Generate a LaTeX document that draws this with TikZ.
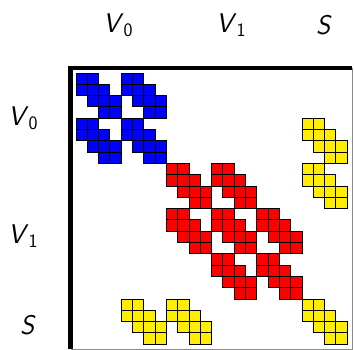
\documentclass[tikz,border=0pt]{standalone}
\usepackage{tikz}
\usetikzlibrary{positioning}
\definecolor{cellblue}{HTML}{0000FF}
\definecolor{cellred}{HTML}{FF0000}
\definecolor{cellyellow}{HTML}{FFEE00}
\tikzset{
  cell/.style  ={draw=black, line width=0.9pt},
  vcell/.style ={cell, fill=cellblue},
  wcell/.style ={cell, fill=cellred},
  scell/.style ={cell, fill=cellyellow},
  lbl/.style   ={font=\fontsize{27}{32}\selectfont\sffamily, inner sep=0pt},
  frm/.style   ={line width=4.5pt, black},
  frmthin/.style={line width=0.6pt, black!45},
}
% 4x4 tridiagonal block at (row, column)
\newcommand{\triblock}[3]{%
  \foreach \i in {0,...,3}{
    \foreach \j in {0,...,3}{
      \pgfmathtruncatemacro\dd{abs(\i-\j)}
      \ifnum\dd<2 \draw[#3] ({#2+\j},{#1+\i}) rectangle ++(1,1);\fi
    }
  }}

\begin{document}
\begin{tikzpicture}
  \useasboundingbox (0,0) rectangle (354pt,-350pt);
  % labels
  \node[lbl] (cv0) at (118pt,-25pt) {\textit{V}\textsubscript{\fontsize{19}{22}\selectfont 0}};
  \node[lbl] (cv1) at (231pt,-25pt) {\textit{V}\textsubscript{\fontsize{19}{22}\selectfont 1}};
  \node[lbl] (cs)  at (324pt,-25pt) {\textit{S}};
  \node[lbl] (rv0) at (23pt,-118pt) {\textit{V}\textsubscript{\fontsize{19}{22}\selectfont 0}};
  \node[lbl] (rv1) at (23pt,-236pt) {\textit{V}\textsubscript{\fontsize{19}{22}\selectfont 1}};
  \node[lbl] (rs)  at (28pt,-325pt) {\textit{S}};
  % frame
  \draw[frmthin] (352pt,-68pt) -- (352pt,-349pt) -- (70.5pt,-349pt);
  \draw[frm] (70.5pt,-349pt) -- (70.5pt,-68pt) -- (352pt,-68pt);
  \begin{scope}[shift={(76pt,-73pt)}, x=11.3pt, y=-11.3pt]
    % V0 block
    \foreach \r/\c in {0/0, 0/4, 4/0, 4/4}
      \triblock{\r}{\c}{vcell};
    % V1 block
    \foreach \r/\c in {8/8, 8/12, 12/8, 12/12, 12/16, 16/12, 16/16}
      \triblock{\r}{\c}{wcell};
    % separator rows and columns
    \foreach \r/\c in {4/20, 8/20, 20/4, 20/8, 20/20}
      \triblock{\r}{\c}{scell};
  \end{scope}
\end{tikzpicture}
\end{document}
